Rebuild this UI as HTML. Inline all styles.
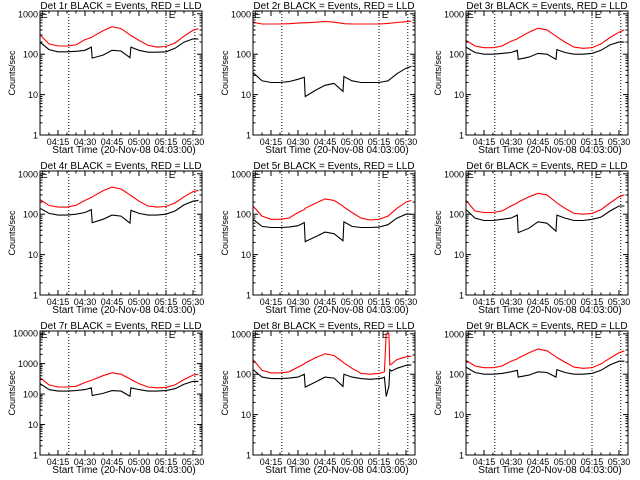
<!DOCTYPE html>
<html><head><meta charset="utf-8"><style>
html,body{margin:0;padding:0;background:#fff;}
svg{display:block;font-family:"Liberation Sans",sans-serif;}
</style></head><body>
<svg id="c" width="640" height="480" viewBox="0 0 640 480"></svg>
<script>
const times=[0,5,10,15,20,25,28.5,29,35,40,45,50,50.5,55,60,65,70,75,80,85,88];
const times8=[0,5,10,15,20,25,28.5,29,35,40,45,50,50.5,55,60,65,70,72,73,74,75.5,76,77,80,85,88];
const titles=["Det 1r BLACK = Events, RED = LLD","Det 2r BLACK = Events, RED = LLD","Det 3r BLACK = Events, RED = LLD","Det 4r BLACK = Events, RED = LLD","Det 5r BLACK = Events, RED = LLD","Det 6r BLACK = Events, RED = LLD","Det 7r BLACK = Events, RED = LLD","Det 8r BLACK = Events, RED = LLD","Det 9r BLACK = Events, RED = LLD"];
const xTickLabels=["04:15","04:30","04:45","05:00","05:15","05:30"];
const xTickTimes=[10,25,40,55,70,85];
const dottedTimes=[16,70,86];
const yMaxDecades=[3,3,3,3,3,3,4,3,3];
const red1=[300,180,160,160,170,230,260,270,380,480,430,300,290,220,165,150,155,190,280,390,430];
const black1=[200,130,115,115,118,125,150,80,95,125,120,82,150,125,112,112,115,140,200,240,240];
const red2=[620,560,560,560,570,590,600,600,620,650,620,580,570,560,560,560,560,580,610,640,660];
const black2=[35,22,20,20,21,24,27,9,13,17,19,12,28,22,20,20,20,22,33,45,50];
const red3=[220,160,145,145,160,210,240,250,350,440,400,280,270,200,150,140,145,180,260,350,400];
const black3=[150,110,100,100,105,110,125,75,85,105,100,75,130,110,100,100,105,125,170,200,200];
const red4=[230,165,150,150,165,220,260,270,380,470,420,300,290,210,160,150,155,190,270,360,390];
const black4=[140,105,95,95,100,110,130,62,75,95,90,60,125,105,95,95,100,120,170,210,220];
const red5=[160,90,75,75,80,110,130,140,190,240,220,160,150,110,80,72,75,90,140,200,220];
const black5=[75,50,47,47,48,52,62,21,28,36,33,22,65,50,47,47,48,55,80,100,100];
const red6=[220,120,110,110,120,160,190,200,270,330,300,200,190,140,105,100,105,130,190,270,300];
const black6=[130,80,70,70,75,80,95,35,45,65,60,38,95,80,70,70,75,85,120,160,160];
const red7=[350,200,170,170,180,240,280,290,400,500,450,320,300,220,170,160,165,200,300,420,450];
const black7=[220,140,125,125,130,140,160,90,105,130,125,85,160,140,125,125,130,150,210,260,260];
const red8=[230,125,108,108,115,150,180,190,260,320,290,200,190,140,105,100,105,110,115,1000,1000,170,180,230,270,280];
const black8=[130,85,78,78,80,85,100,48,65,85,80,50,100,85,78,75,78,80,85,28,50,130,120,140,165,170];
const red9=[220,160,145,145,160,210,240,250,340,420,380,270,260,200,150,140,145,180,250,340,380];
const black9=[150,110,100,100,105,115,125,85,95,115,110,85,130,110,100,100,105,125,170,210,210];
const reds=[red1,red2,red3,red4,red5,red6,red7,red8,red9];
const blacks=[black1,black2,black3,black4,black5,black6,black7,black8,black9];
const tArr=[times,times,times,times,times,times,times,times8,times];

const NS="http://www.w3.org/2000/svg";
const svg=document.getElementById('c');
function mk(tag,attrs,parent){const e=document.createElementNS(NS,tag);for(const k in attrs)e.setAttribute(k,attrs[k]);(parent||svg).appendChild(e);return e;}

for(let p=0;p<9;p++){
  const col=p%3,row=Math.floor(p/3);
  const L=col*213+40,R=L+162,T=row*160+11,B=row*160+135;
  const dec=yMaxDecades[p];
  const top=dec+0.07;
  const xs=t=>L+t*1.8;
  const ys=v=>{const lv=Math.log10(Math.max(v,0.5));return B-(lv/top)*(B-T);};
  const g=mk('g',{});
  
  
  const ttl=mk('text',{x:(L+R)/2,y:row*160+9,'text-anchor':'middle','font-size':'10'},g);
  ttl.textContent=titles[p];
  
  
  const cid='cl'+p;
  const cp=mk('clipPath',{id:cid},g);mk('rect',{x:L,y:T,width:R-L,height:B-T},cp);
  dottedTimes.forEach(t=>{
    const d=mk('line',{x1:xs(t),x2:xs(t),y1:T,y2:B,stroke:'#000','stroke-width':1,'stroke-dasharray':'1,2'},g);
    
    
  });
  [0,71].forEach(t=>{
    const e=mk('text',{x:xs(t)+1,y:T+7,'font-size':'10'},g);e.textContent='E';
    
    
  });
  const mkPath=(arr,color,name)=>{
    let d='';tArr[p].forEach((t,i)=>{d+=(i?'L':'M')+xs(t).toFixed(1)+','+ys(arr[i]).toFixed(1);});
    const pa=mk('path',{d:d,fill:'none',stroke:color,'stroke-width':1.1,'clip-path':'url(#'+cid+')'},g);
    
    
  };
  mkPath(reds[p],'#ff0000','lld-red-series');
  mkPath(blacks[p],'#000000','events-black-series');
  const bx=mk('rect',{x:L,y:T,width:R-L,height:B-T,fill:'none',stroke:'#000','stroke-width':1},g);
  
  
  for(let k=0;k<=dec;k++){
    const y=ys(Math.pow(10,k));
    mk('line',{x1:L,x2:L+5,y1:y,y2:y,stroke:'#000'},g);
    mk('line',{x1:R,x2:R-5,y1:y,y2:y,stroke:'#000'},g);
    const lb=mk('text',{x:L-2,y:y+3.5,'text-anchor':'end','font-size':'9'},g);
    lb.textContent=String(Math.pow(10,k));
    
    
    if(k<dec){for(let m=2;m<=9;m++){const yy=ys(m*Math.pow(10,k));
      mk('line',{x1:L,x2:L+2.5,y1:yy,y2:yy,stroke:'#000'},g);
      mk('line',{x1:R,x2:R-2.5,y1:yy,y2:yy,stroke:'#000'},g);}}
  }
  xTickTimes.forEach((t,i)=>{
    const x=xs(t);
    mk('line',{x1:x,x2:x,y1:B,y2:B-5,stroke:'#000'},g);
    mk('line',{x1:x,x2:x,y1:T,y2:T+5,stroke:'#000'},g);
    const lb=mk('text',{x:x,y:B+10,'text-anchor':'middle','font-size':'9'},g);
    lb.textContent=xTickLabels[i];
    
    
  });
  for(let t=0;t<=90;t+=5){const x=xs(t);mk('line',{x1:x,x2:x,y1:B,y2:B-2.5,stroke:'#000'},g);mk('line',{x1:x,x2:x,y1:T,y2:T+2.5,stroke:'#000'},g);}
  const xt=mk('text',{x:(L+R)/2+3,y:B+18,'text-anchor':'middle','font-size':'10'},g);
  xt.textContent='Start Time (20-Nov-08 04:03:00)';
  
  
  const yt=mk('text',{x:0,y:0,'text-anchor':'middle','font-size':'9',transform:'translate('+(col*213+15)+','+((T+B)/2)+') rotate(-90)'},g);
  yt.textContent='Counts/sec';
  
  
}
</script>
</body></html>
